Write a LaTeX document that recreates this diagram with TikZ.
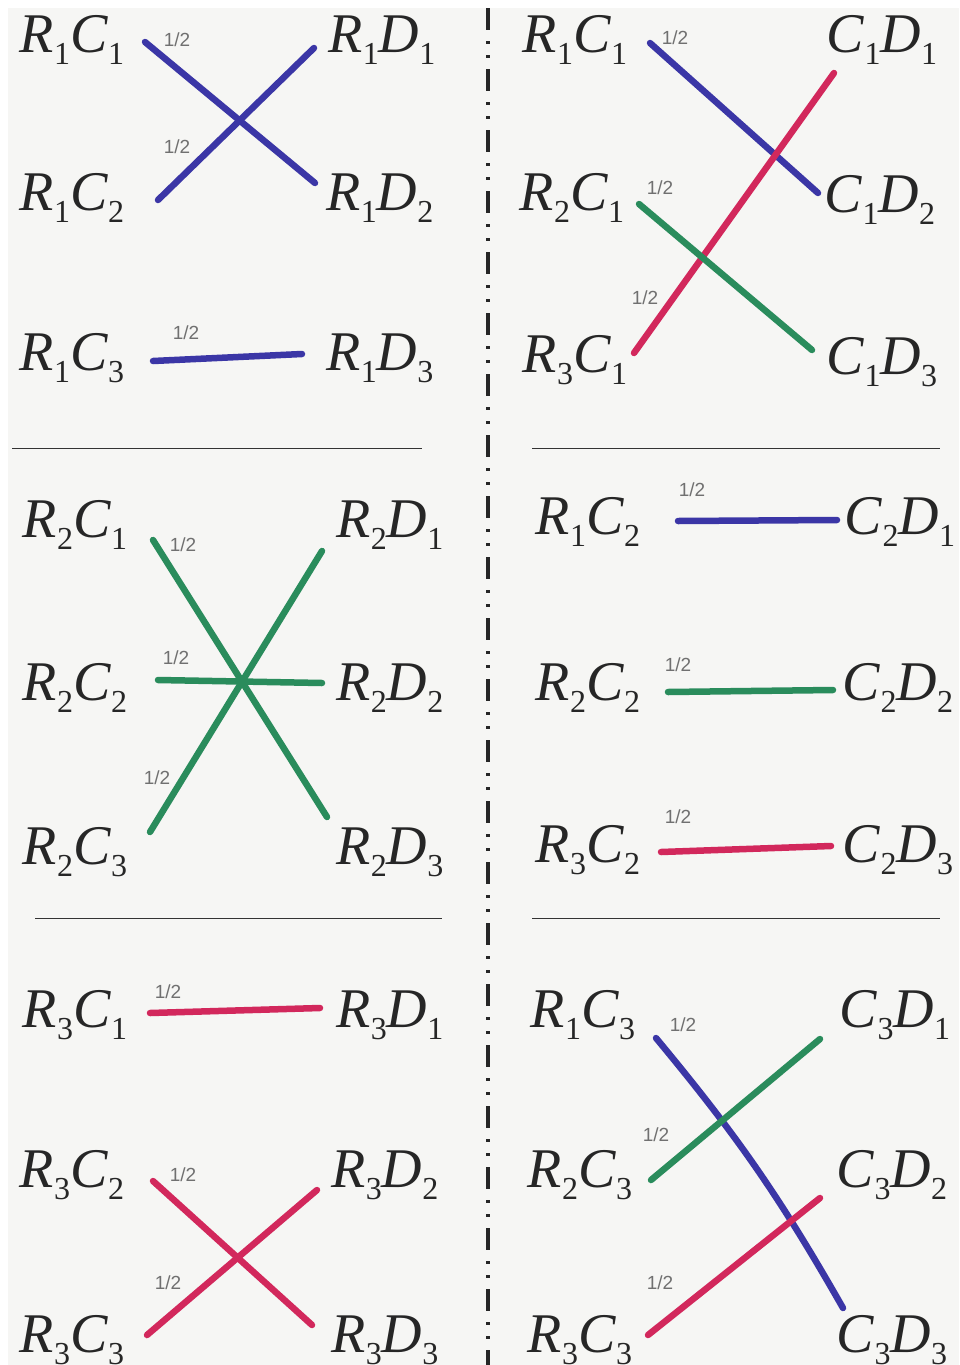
\documentclass[tikz,border=0pt]{standalone}
\usepackage{fontspec}
\usetikzlibrary{calc}
\setmainfont{Liberation Serif}
\newfontfamily\handfont{Liberation Sans}
\definecolor{penblue}{HTML}{3B36A6}
\definecolor{pengreen}{HTML}{2A8C5C}
\definecolor{penred}{HTML}{D2285C}
\definecolor{paper}{HTML}{F6F6F4}
\definecolor{pencil}{HTML}{707070}
\newcommand{\subdig}[1]{\raisebox{-12pt}{\fontsize{32}{32}\selectfont #1}}
\newcommand{\pairlab}[4]{\textit{#1}\subdig{#2}\textit{#3}\subdig{#4}}

\begin{document}
\begin{tikzpicture}[x=1pt,y=-1pt,
    lab/.style={font=\fontsize{56}{56}\selectfont, text=black!85, inner sep=16pt},
    half/.style={font=\handfont\fontsize{19}{19}\selectfont, text=pencil, inner sep=0pt},
    pen/.style={line width=6.5pt, line cap=round, line join=round},
    rule/.style={line width=1pt, black!80}]
  \useasboundingbox (0,0) rectangle (959,1365);

  % paper
  \fill[white] (0,0) rectangle (959,1365);
  \fill[paper] (8,8) rectangle (959,1365);

  % middle divider
  \draw[line width=3.5pt, black!85, dash pattern=on 22pt off 11pt on 3pt off 11pt on 3pt off 11pt] (488,8) -- (488,1365);

  % section rules
  \draw[rule] (12,448) -- (422,448);
  \draw[rule] (35,918) -- (442,918);
  \draw[rule] (532,448) -- (940,448);
  \draw[rule] (532,918) -- (940,918);

  % R1 block
  \node[lab] (r1c1) at (72,40) {\pairlab{R}{1}{C}{1}};
  \node[lab] (r1c2) at (72,198) {\pairlab{R}{1}{C}{2}};
  \node[lab] (r1c3) at (72,358) {\pairlab{R}{1}{C}{3}};
  \node[lab] (r1d1) at (382,40) {\pairlab{R}{1}{D}{1}};
  \node[lab] (r1d2) at (380,198) {\pairlab{R}{1}{D}{2}};
  \node[lab] (r1d3) at (380,358) {\pairlab{R}{1}{D}{3}};
  \draw[pen, penblue] ($(r1c1)+(73,2)$) -- ($(r1d2)+(-65,-15)$);
  \draw[pen, penblue] ($(r1c2)+(86,2)$) -- ($(r1d1)+(-68,8)$);
  \draw[pen, penblue] ($(r1c3)+(81,3)$) -- ($(r1d3)+(-78,-4)$);
  \node[half] (h11) at (177,40) {1/2};
  \node[half] (h12) at (177,147) {1/2};
  \node[half] (h13) at (186,333) {1/2};

  % R2 block
  \node[lab] (r2c1) at (75,525) {\pairlab{R}{2}{C}{1}};
  \node[lab] (r2c2) at (75,688) {\pairlab{R}{2}{C}{2}};
  \node[lab] (r2c3) at (75,852) {\pairlab{R}{2}{C}{3}};
  \node[lab] (r2d1) at (390,525) {\pairlab{R}{2}{D}{1}};
  \node[lab] (r2d2) at (390,688) {\pairlab{R}{2}{D}{2}};
  \node[lab] (r2d3) at (390,852) {\pairlab{R}{2}{D}{3}};
  \draw[pen, pengreen] ($(r2c1)+(78,15)$) -- ($(r2d3)+(-63,-35)$);
  \draw[pen, pengreen] ($(r2c2)+(83,-8)$) -- ($(r2d2)+(-68,-5)$);
  \draw[pen, pengreen] ($(r2c3)+(75,-20)$) -- ($(r2d1)+(-68,26)$);
  \node[half] (h21) at (183,545) {1/2};
  \node[half] (h22) at (176,658) {1/2};
  \node[half] (h23) at (157,778) {1/2};

  % R3 block
  \node[lab] (r3c1) at (75,1015) {\pairlab{R}{3}{C}{1}};
  \node[lab] (r3c2) at (72,1175) {\pairlab{R}{3}{C}{2}};
  \node[lab] (r3c3) at (72,1340) {\pairlab{R}{3}{C}{3}};
  \node[lab] (r3d1) at (390,1015) {\pairlab{R}{3}{D}{1}};
  \node[lab] (r3d2) at (385,1175) {\pairlab{R}{3}{D}{2}};
  \node[lab] (r3d3) at (385,1340) {\pairlab{R}{3}{D}{3}};
  \draw[pen, penred] ($(r3c1)+(75,-2)$) -- ($(r3d1)+(-70,-7)$);
  \draw[pen, penred] ($(r3c2)+(81,6)$) -- ($(r3d3)+(-73,-15)$);
  \draw[pen, penred] ($(r3c3)+(75,-5)$) -- ($(r3d2)+(-68,15)$);
  \node[half] (h31) at (168,992) {1/2};
  \node[half] (h32) at (183,1175) {1/2};
  \node[half] (h33) at (168,1283) {1/2};

  % C1 block
  \node[lab] (c1r1) at (575,40) {\pairlab{R}{1}{C}{1}};
  \node[lab] (c1r2) at (572,198) {\pairlab{R}{2}{C}{1}};
  \node[lab] (c1r3) at (575,360) {\pairlab{R}{3}{C}{1}};
  \node[lab] (c1d1) at (882,40) {\pairlab{C}{1}{D}{1}};
  \node[lab] (c1d2) at (880,200) {\pairlab{C}{1}{D}{2}};
  \node[lab] (c1d3) at (882,362) {\pairlab{C}{1}{D}{3}};
  \draw[pen, penblue] ($(c1r1)+(75,3)$) -- ($(c1d2)+(-62,-7)$);
  \draw[pen, penred] ($(c1r3)+(59,-7)$) -- ($(c1d1)+(-48,33)$);
  \draw[pen, pengreen] ($(c1r2)+(67,6)$) -- ($(c1d3)+(-70,-12)$);
  \node[half] (h41) at (675,38) {1/2};
  \node[half] (h42) at (660,188) {1/2};
  \node[half] (h43) at (645,298) {1/2};

  % C2 block
  \node[lab] (c2r1) at (588,522) {\pairlab{R}{1}{C}{2}};
  \node[lab] (c2r2) at (588,688) {\pairlab{R}{2}{C}{2}};
  \node[lab] (c2r3) at (588,850) {\pairlab{R}{3}{C}{2}};
  \node[lab] (c2d1) at (900,522) {\pairlab{C}{2}{D}{1}};
  \node[lab] (c2d2) at (898,688) {\pairlab{C}{2}{D}{2}};
  \node[lab] (c2d3) at (898,850) {\pairlab{C}{2}{D}{3}};
  \draw[pen, penblue] ($(c2r1)+(90,-1)$) -- ($(c2d1)+(-63,-2)$);
  \draw[pen, pengreen] ($(c2r2)+(80,4)$) -- ($(c2d2)+(-65,2)$);
  \draw[pen, penred] ($(c2r3)+(73,2)$) -- ($(c2d3)+(-67,-4)$);
  \node[half] (h51) at (692,490) {1/2};
  \node[half] (h52) at (678,665) {1/2};
  \node[half] (h53) at (678,817) {1/2};

  % C3 block
  \node[lab] (c3r1) at (583,1015) {\pairlab{R}{1}{C}{3}};
  \node[lab] (c3r2) at (580,1175) {\pairlab{R}{2}{C}{3}};
  \node[lab] (c3r3) at (580,1340) {\pairlab{R}{3}{C}{3}};
  \node[lab] (c3d1) at (895,1015) {\pairlab{C}{3}{D}{1}};
  \node[lab] (c3d2) at (892,1175) {\pairlab{C}{3}{D}{2}};
  \node[lab] (c3d3) at (892,1340) {\pairlab{C}{3}{D}{3}};
  \draw[pen, penblue] ($(c3r1)+(73,23)$) to[bend left=5] ($(c3d3)+(-49,-32)$);
  \draw[pen, pengreen] ($(c3r2)+(71,5)$) -- ($(c3d1)+(-75,24)$);
  \draw[pen, penred] ($(c3r3)+(68,-5)$) -- ($(c3d2)+(-72,23)$);
  \node[half] (h61) at (683,1025) {1/2};
  \node[half] (h62) at (656,1135) {1/2};
  \node[half] (h63) at (660,1283) {1/2};
\end{tikzpicture}
\end{document}
